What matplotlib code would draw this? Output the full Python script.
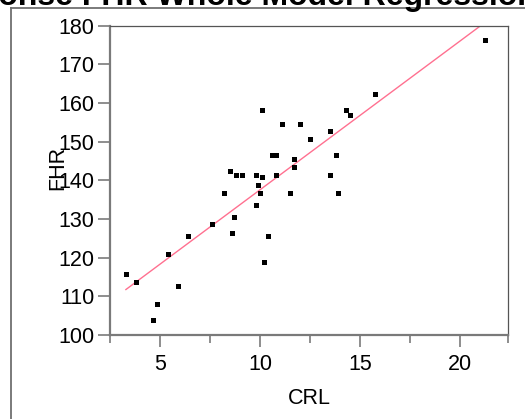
import numpy as np
import matplotlib
matplotlib.use("Agg")
import matplotlib.pyplot as plt
from matplotlib.lines import Line2D

plt.rcParams['font.family'] = ['Liberation Sans', 'DejaVu Sans']

crl = [3.28, 3.78, 4.65, 4.85, 5.40, 5.89, 6.39, 7.59, 8.19, 8.49, 8.59, 8.69, 8.79,
       9.09, 9.79, 9.79, 9.89, 9.99, 10.09, 10.09, 10.19, 10.39, 10.59, 10.79, 10.79,
       11.09, 11.49, 11.7, 11.7, 12.0, 12.5, 13.5, 13.5, 13.8, 13.9, 14.3, 14.5, 15.71, 21.22]
fhr = [115.7, 113.7, 104.0, 108.1, 120.9, 112.7, 125.5, 128.6, 136.8, 142.4, 126.5, 130.6, 141.4,
       141.4, 141.4, 133.7, 138.8, 136.8, 140.9, 158.3, 118.8, 125.5, 146.5, 146.5, 141.4,
       154.7, 136.8, 145.5, 143.4, 154.7, 150.6, 152.7, 141.4, 146.5, 136.8, 158.3, 156.8, 162.4, 176.3]
x_ticks = [5, 10, 15, 20]
y_ticks = [100, 110, 120, 130, 140, 150, 160, 170, 180]
title = "Response FHR Whole Model Regression"
x_label = "CRL"
y_label = "FHR"

W, H = 525, 419
fig = plt.figure(figsize=(W / 100, H / 100), dpi=100)
ax = fig.add_axes([110.3 / W, (H - 335) / H, 398 / W, 309.3 / H])

x = np.array(crl)
y = np.array(fhr)
slope, intercept = np.polyfit(x, y, 1)
xs = np.array([x.min(), x.max()])
ax.plot(xs, intercept + slope * xs, color='#ff7090', lw=1.0, zorder=2)
ax.plot(x, y, 's', color='black', markersize=3.6, markeredgewidth=0, zorder=3)

ax.set_xlim(2.5, 22.4)
ax.set_ylim(100, 180)
ax.set_xticks(x_ticks)
ax.set_xticks([2.5, 7.5, 12.5, 17.5, 22.4], minor=True)
ax.set_yticks(y_ticks)
ax.set_xticklabels([str(t) for t in x_ticks])
ax.set_yticklabels([str(t) for t in y_ticks])

gray = '#7a7a7a'
for side in ['left', 'bottom']:
    ax.spines[side].set_color(gray)
    ax.spines[side].set_linewidth(1.6)
for side in ['top', 'right']:
    ax.spines[side].set_color('#555555')
    ax.spines[side].set_linewidth(0.9)

ax.tick_params(axis='both', which='major', direction='out', length=8.5, width=1.2,
               color=gray, labelsize=15.5, labelcolor='black')
ax.tick_params(axis='x', which='major', pad=5)
ax.tick_params(axis='y', which='major', pad=3)
ax.tick_params(axis='x', which='minor', direction='out', length=5.5, width=1.2, color=gray)

fig.text(58 / W, (H - 168) / H, y_label, rotation=90, ha='center', va='center', fontsize=15.5)
fig.text(309 / W, (H - 398) / H, x_label, ha='center', va='center', fontsize=15.5)

fig.text(-80 / W, (H - 5) / H, title, ha='left', va='baseline', fontsize=23, fontweight='bold')

fig.add_artist(Line2D([11 / W, 11 / W], [0, (H - 8) / H], transform=fig.transFigure,
                      color='#707070', lw=1.3))
fig.add_artist(Line2D([11 / W, 1], [(H - 8) / H, (H - 8) / H], transform=fig.transFigure,
                      color='#707070', lw=1.3))

fig.savefig('out.png', dpi=100)
